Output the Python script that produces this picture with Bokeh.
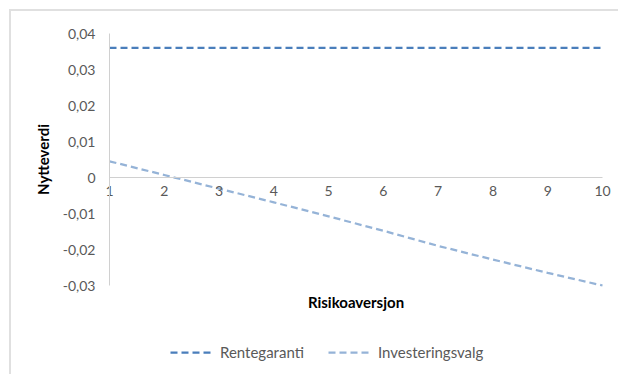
from bokeh.plotting import figure
from bokeh.models import Range1d, FixedTicker, Legend, LegendItem, Label
from bokeh.embed import file_html
from bokeh.resources import INLINE

# Chart data
risikoaversjon = [1, 2, 3, 4, 5, 6, 7, 8, 9, 10]
rentegaranti = [0.036, 0.036, 0.036, 0.036, 0.036, 0.036, 0.036, 0.036, 0.036, 0.036]
investeringsvalg = [0.0045, 0.0007, -0.0031, -0.0069, -0.0108,
                    -0.0148, -0.0190, -0.0228, -0.0265, -0.0300]
y_ticks = [-0.03, -0.02, -0.01, 0, 0.01, 0.02, 0.03, 0.04]
y_tick_labels = ["-0,03", "-0,02", "-0,01", "0", "0,01", "0,02", "0,03", "0,04"]

FONT = "Lato"
GRAY_TEXT = "#595959"
AXIS_GRAY = "#d0d0d0"

# Canvas size and where the plotting area sits inside it (pixels)
W, H = 609, 365
AREA_LEFT, AREA_RIGHT, AREA_TOP, AREA_BOTTOM = 98, 591, 22, 274

# The frame fills the whole canvas; both axes are pinned inside it, so the
# ranges are widened to put the data area at the pixel box above.
x0, x1 = risikoaversjon[0], risikoaversjon[-1]
y0, y1 = y_ticks[0], y_ticks[-1]
px_x = (AREA_RIGHT - AREA_LEFT) / (x1 - x0)
px_y = (AREA_BOTTOM - AREA_TOP) / (y1 - y0)
x_range = Range1d(x0 - AREA_LEFT / px_x, x1 + (W - AREA_RIGHT) / px_x)
y_range = Range1d(y0 - (H - AREA_BOTTOM) / px_y, y1 + AREA_TOP / px_y)

p = figure(
    width=W, height=H, x_range=x_range, y_range=y_range,
    output_backend="svg", toolbar_location=None,
    min_border_left=0, min_border_right=0,
    min_border_top=0, min_border_bottom=0,
    styles={"margin-left": "9px", "margin-top": "9px",
            "border-left": "2px solid #e0e0e0",
            "border-top": "2px solid #e0e0e0"},
)
p.outline_line_color = None
p.xgrid.visible = False
p.ygrid.visible = False
p.background_fill_color = "white"
p.border_fill_color = "white"

r1 = p.line(risikoaversjon, rentegaranti, line_color="#4a7ebb",
            line_width=2.25, line_dash="7 4")
r2 = p.line(risikoaversjon, investeringsvalg, line_color="#95b3d7",
            line_width=2.25, line_dash="7 4")

# y axis at the first category, comma decimals
yax = p.yaxis[0]
yax.fixed_location = x0
yax.bounds = (y0, y1)
yax.ticker = FixedTicker(ticks=y_ticks)
yax.major_label_overrides = dict(zip(y_ticks, y_tick_labels))
yax.major_tick_out = 0
yax.major_tick_in = 0
yax.minor_tick_out = 0
yax.minor_tick_in = 0
yax.axis_line_color = AXIS_GRAY
yax.major_label_standoff = 14
yax.major_label_text_font = FONT
yax.major_label_text_font_size = "14px"
yax.major_label_text_color = GRAY_TEXT
yax.axis_label = "Nytteverdi"
yax.axis_label_text_font = FONT
yax.axis_label_text_font_style = "bold"
yax.axis_label_text_font_size = "15px"
yax.axis_label_text_color = "#000000"
yax.axis_label_standoff = 8

# x axis crossing at zero
xax = p.xaxis[0]
xax.fixed_location = 0
xax.bounds = (x0, x1)
xax.ticker = FixedTicker(ticks=risikoaversjon)
xax.major_tick_out = 0
xax.major_tick_in = 0
xax.minor_tick_out = 0
xax.minor_tick_in = 0
xax.axis_line_color = AXIS_GRAY
xax.major_label_standoff = 8
xax.major_label_text_font = FONT
xax.major_label_text_font_size = "14px"
xax.major_label_text_color = GRAY_TEXT

# x axis title under the plotting area
p.add_layout(Label(x=(x0 + x1) / 2, y=H - AREA_BOTTOM - 16,
                   x_units="data", y_units="screen",
                   text="Risikoaversjon", text_align="center",
                   text_baseline="middle", text_font=FONT,
                   text_font_style="bold", text_font_size="15px",
                   text_color="#000000"))

legend = Legend(
    items=[LegendItem(label="Rentegaranti", renderers=[r1]),
           LegendItem(label="Investeringsvalg", renderers=[r2])],
    orientation="horizontal", location=(159, 15),
    border_line_color=None, background_fill_alpha=0,
    glyph_width=42, glyph_height=14, label_standoff=8, spacing=24,
    label_text_font=FONT, label_text_font_size="15px",
    label_text_color=GRAY_TEXT, padding=0, margin=0,
)
p.add_layout(legend)

open("out.html", "w").write(file_html(p, INLINE))
